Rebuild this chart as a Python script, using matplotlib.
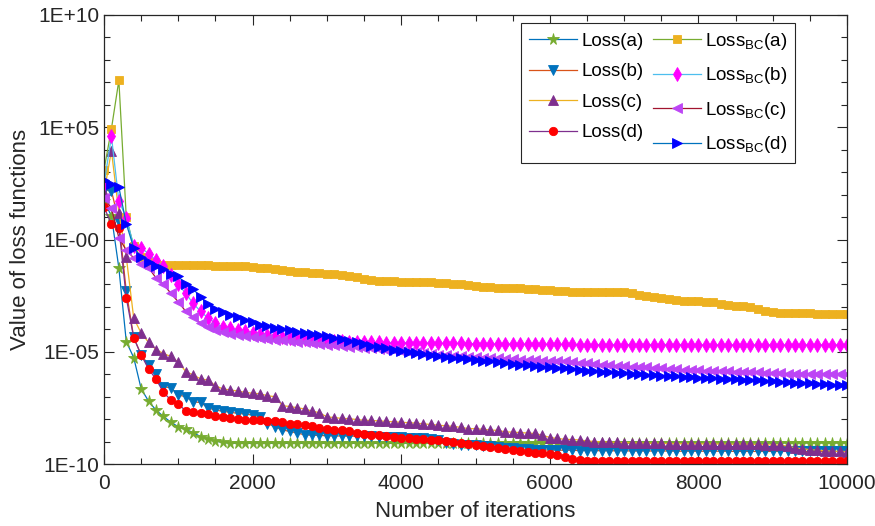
import numpy as np
import matplotlib
matplotlib.use("Agg")
import matplotlib.pyplot as plt
from matplotlib.ticker import FixedLocator, FixedFormatter, NullFormatter

plt.rcParams['font.family'] = ['Liberation Sans', 'DejaVu Sans']
plt.rcParams['mathtext.fontset'] = 'custom'
plt.rcParams['mathtext.rm'] = 'Liberation Sans'
plt.rcParams['mathtext.it'] = 'Liberation Sans:italic'

iterations = np.arange(0, 10001, 100)

# values stored as log10 of the loss
loss_a = [1.70, 1.05, -1.27, -4.55, -5.26, -6.65, -7.20, -7.60, -7.88, -8.14,
          -8.34, -8.46, -8.60, -8.78, -8.87, -8.98, -9.04, -9.07, -9.08, -9.08,
          -9.08, -9.08, -9.08, -9.08, -9.08, -9.08, -9.08, -9.08, -9.08, -9.08,
          -9.08, -9.08, -9.08, -9.08, -9.08, -9.08, -9.08, -9.08, -9.08, -9.08,
          -9.08, -9.07, -9.07, -9.07, -9.07, -9.07, -9.07, -9.07, -9.07, -9.07,
          -9.07, -9.07, -9.07, -9.07, -9.07, -9.07, -9.07, -9.07, -9.07, -9.07,
          -9.07, -9.06, -9.06, -9.06, -9.06, -9.06, -9.06, -9.06, -9.06, -9.06,
          -9.06, -9.06, -9.06, -9.06, -9.06, -9.06, -9.06, -9.06, -9.06, -9.06,
          -9.05, -9.05, -9.05, -9.05, -9.05, -9.05, -9.05, -9.05, -9.05, -9.05,
          -9.05, -9.05, -9.05, -9.05, -9.05, -9.05, -9.05, -9.05, -9.05, -9.05,
          -9.05]
loss_b = [2.20, 2.17, 0.80, -2.30, -4.36, -5.14, -5.58, -6.00, -6.56, -6.60,
          -6.93, -7.00, -7.23, -7.26, -7.50, -7.60, -7.65, -7.70, -7.74, -7.78,
          -7.82, -7.90, -8.20, -8.35, -8.48, -8.55, -8.62, -8.70, -8.72, -8.73,
          -8.74, -8.75, -8.75, -8.76, -8.76, -8.77, -8.77, -8.78, -8.78, -8.79,
          -8.79, -8.82, -8.84, -8.86, -8.88, -8.95, -9.05, -9.12, -9.15, -9.16,
          -9.17, -9.18, -9.20, -9.24, -9.28, -9.30, -9.33, -9.35, -9.36, -9.37,
          -9.38, -9.38, -9.39, -9.39, -9.40, -9.40, -9.40, -9.41, -9.41, -9.41,
          -9.41, -9.42, -9.42, -9.42, -9.42, -9.42, -9.42, -9.43, -9.43, -9.43,
          -9.43, -9.43, -9.43, -9.43, -9.43, -9.44, -9.44, -9.44, -9.44, -9.44,
          -9.44, -9.44, -9.44, -9.44, -9.44, -9.44, -9.44, -9.44, -9.44, -9.44,
          -9.44]
loss_c = [2.07, 3.95, 1.20, -0.78, -3.50, -4.17, -4.58, -4.90, -5.08, -5.21,
          -5.46, -5.88, -6.03, -6.21, -6.26, -6.51, -6.66, -6.70, -6.75, -6.81,
          -6.85, -6.87, -6.96, -7.00, -7.40, -7.44, -7.49, -7.55, -7.64, -7.72,
          -7.90, -7.93, -7.97, -7.98, -8.02, -8.05, -8.06, -8.08, -8.10, -8.12,
          -8.14, -8.16, -8.18, -8.21, -8.24, -8.27, -8.30, -8.32, -8.37, -8.42,
          -8.43, -8.45, -8.49, -8.50, -8.57, -8.58, -8.60, -8.62, -8.64, -8.72,
          -8.82, -8.86, -8.90, -8.91, -8.93, -8.97, -9.00, -9.02, -9.03, -9.04,
          -9.05, -9.06, -9.07, -9.07, -9.08, -9.08, -9.09, -9.09, -9.10, -9.10,
          -9.10, -9.11, -9.11, -9.11, -9.12, -9.12, -9.12, -9.13, -9.13, -9.14,
          -9.15, -9.16, -9.20, -9.28, -9.32, -9.36, -9.39, -9.41, -9.43, -9.44,
          -9.45]
loss_d = [1.45, 0.68, 0.53, -2.60, -4.38, -5.14, -5.77, -6.22, -6.81, -7.15,
          -7.32, -7.64, -7.67, -7.75, -7.79, -7.85, -7.90, -7.96, -8.00, -8.02,
          -8.05, -8.06, -8.08, -8.10, -8.15, -8.20, -8.24, -8.27, -8.30, -8.38,
          -8.45, -8.47, -8.49, -8.55, -8.61, -8.65, -8.69, -8.72, -8.75, -8.80,
          -8.84, -8.86, -8.88, -8.90, -8.92, -8.94, -8.97, -9.00, -9.06, -9.12,
          -9.16, -9.20, -9.24, -9.28, -9.32, -9.36, -9.43, -9.47, -9.50, -9.52,
          -9.54, -9.60, -9.69, -9.79, -9.84, -9.88, -9.88, -9.88, -9.88, -9.88,
          -9.88, -9.88, -9.88, -9.88, -9.88, -9.88, -9.88, -9.88, -9.88, -9.88,
          -9.88, -9.88, -9.88, -9.88, -9.88, -9.88, -9.88, -9.88, -9.88, -9.88,
          -9.88, -9.88, -9.88, -9.88, -9.88, -9.88, -9.88, -9.88, -9.88, -9.88,
          -9.88]
loss_bc_a = [3.10, 4.93, 7.09, 0.98, -0.30, -0.80, -1.00, -1.10, -1.13, -1.13,
             -1.14, -1.14, -1.14, -1.15, -1.15, -1.16, -1.16, -1.17, -1.18, -1.20,
             -1.22, -1.25, -1.28, -1.32, -1.36, -1.40, -1.43, -1.46, -1.48, -1.50,
             -1.52, -1.54, -1.57, -1.62, -1.68, -1.74, -1.79, -1.83, -1.86, -1.87,
             -1.88, -1.89, -1.89, -1.90, -1.91, -1.93, -1.95, -1.96, -1.98, -2.02,
             -2.08, -2.10, -2.12, -2.14, -2.15, -2.16, -2.18, -2.20, -2.22, -2.24,
             -2.26, -2.28, -2.30, -2.32, -2.33, -2.33, -2.34, -2.34, -2.35, -2.35,
             -2.36, -2.37, -2.45, -2.52, -2.57, -2.62, -2.67, -2.70, -2.72, -2.74,
             -2.76, -2.78, -2.80, -2.87, -2.90, -2.95, -2.97, -3.02, -3.10, -3.17,
             -3.24, -3.27, -3.28, -3.28, -3.29, -3.29, -3.30, -3.30, -3.31, -3.32,
             -3.32]
loss_bc_b = [2.45, 4.59, 1.72, 0.97, -0.29, -0.37, -0.63, -0.93, -1.20, -1.60,
             -2.00, -2.40, -2.85, -3.20, -3.50, -3.72, -3.90, -3.96, -4.04, -4.09,
             -4.16, -4.21, -4.26, -4.30, -4.34, -4.37, -4.40, -4.43, -4.45, -4.48,
             -4.50, -4.52, -4.54, -4.55, -4.56, -4.57, -4.58, -4.58, -4.59, -4.59,
             -4.60, -4.60, -4.61, -4.61, -4.62, -4.62, -4.63, -4.63, -4.63, -4.64,
             -4.64, -4.64, -4.65, -4.65, -4.65, -4.66, -4.66, -4.66, -4.66, -4.67,
             -4.67, -4.67, -4.67, -4.67, -4.68, -4.68, -4.68, -4.68, -4.68, -4.68,
             -4.68, -4.68, -4.68, -4.68, -4.68, -4.68, -4.68, -4.68, -4.68, -4.68,
             -4.69, -4.69, -4.69, -4.69, -4.69, -4.69, -4.69, -4.69, -4.69, -4.69,
             -4.69, -4.69, -4.69, -4.69, -4.69, -4.69, -4.69, -4.69, -4.69, -4.69,
             -4.69]
loss_bc_c = [1.85, 1.40, 0.08, -0.48, -0.82, -1.08, -1.26, -1.71, -1.99, -2.40,
             -2.78, -3.20, -3.47, -3.72, -3.90, -4.02, -4.14, -4.21, -4.27, -4.32,
             -4.36, -4.40, -4.43, -4.46, -4.49, -4.52, -4.55, -4.58, -4.61, -4.64,
             -4.68, -4.71, -4.74, -4.77, -4.79, -4.82, -4.84, -4.87, -4.90, -4.93,
             -4.96, -4.99, -5.03, -5.07, -5.10, -5.14, -5.16, -5.18, -5.20, -5.22,
             -5.24, -5.26, -5.28, -5.30, -5.32, -5.34, -5.36, -5.37, -5.38, -5.39,
             -5.40, -5.41, -5.43, -5.45, -5.48, -5.51, -5.54, -5.57, -5.60, -5.62,
             -5.64, -5.66, -5.68, -5.70, -5.72, -5.74, -5.76, -5.78, -5.80, -5.82,
             -5.83, -5.84, -5.85, -5.86, -5.87, -5.88, -5.89, -5.90, -5.91, -5.93,
             -5.95, -5.96, -5.97, -5.97, -5.98, -5.98, -5.99, -5.99, -6.00, -6.00,
             -6.00]
loss_bc_d = [2.65, 2.45, 2.33, 0.70, -0.37, -0.78, -1.00, -1.19, -1.30, -1.52,
             -1.64, -1.98, -2.20, -2.57, -2.87, -3.08, -3.24, -3.35, -3.47, -3.57,
             -3.68, -3.79, -3.87, -3.94, -3.99, -4.05, -4.10, -4.16, -4.22, -4.27,
             -4.32, -4.37, -4.44, -4.50, -4.56, -4.66, -4.74, -4.78, -4.85, -4.90,
             -4.95, -4.99, -5.04, -5.10, -5.16, -5.20, -5.23, -5.27, -5.30, -5.33,
             -5.36, -5.39, -5.43, -5.47, -5.50, -5.53, -5.57, -5.60, -5.63, -5.66,
             -5.68, -5.71, -5.73, -5.76, -5.80, -5.85, -5.87, -5.89, -5.91, -5.93,
             -5.96, -5.98, -6.00, -6.03, -6.05, -6.06, -6.08, -6.10, -6.12, -6.13,
             -6.15, -6.16, -6.18, -6.20, -6.21, -6.23, -6.24, -6.26, -6.28, -6.29,
             -6.31, -6.33, -6.35, -6.37, -6.38, -6.40, -6.42, -6.44, -6.46, -6.48,
             -6.50]

labels = ['Loss(a)', 'Loss(b)', 'Loss(c)', 'Loss(d)',
          r'Loss$_{\mathrm{BC}}$(a)', r'Loss$_{\mathrm{BC}}$(b)',
          r'Loss$_{\mathrm{BC}}$(c)', r'Loss$_{\mathrm{BC}}$(d)']
series = [loss_a, loss_b, loss_c, loss_d, loss_bc_a, loss_bc_b, loss_bc_c, loss_bc_d]
line_colors = ['#0072BD', '#D95319', '#EDB120', '#7E2F8E',
               '#77AC30', '#4DBEEE', '#A2142F', '#0072BD']
marker_colors = ['#77AC30', '#0072BD', '#7E2F8E', '#FF0000',
                 '#EDB120', '#FF00FF', '#BD45F5', '#0000FF']
markers = ['*', 'v', '^', 'o', 's', 'd', '<', '>']
msizes = [8.5, 6.5, 6.5, 6, 6, 7, 6.5, 6.5]

ytick_vals = [1e-10, 1e-5, 1e0, 1e5, 1e10]
ytick_labels = ['1E-10', '1E-05', '1E-00', '1E+05', '1E+10']
xtick_vals = [0, 2000, 4000, 6000, 8000, 10000]

fig = plt.figure(figsize=(8.75, 5.26), dpi=100)
ax = fig.add_axes([104/875, 1-464/526, 743/875, 449/526])

for vals, lab, lc, mc, mk, ms in zip(series, labels, line_colors, marker_colors, markers, msizes):
    ax.plot(iterations, 10.0 ** np.array(vals), color=lc, lw=0.9,
            marker=mk, ms=ms, mfc=mc, mec=mc, mew=0.6, label=lab)

ax.set_yscale('log')
ax.set_xlim(0, 10000)
ax.set_ylim(1e-10, 1e10)
ax.yaxis.set_major_locator(FixedLocator(ytick_vals))
ax.yaxis.set_major_formatter(FixedFormatter(ytick_labels))
ax.yaxis.set_minor_locator(FixedLocator(10.0 ** np.arange(-10, 11)))
ax.yaxis.set_minor_formatter(NullFormatter())
ax.set_xticks(xtick_vals)
ax.set_xticks(np.arange(0, 10001, 500), minor=True)

ax.tick_params(which='both', direction='in', top=True, right=True,
               colors='#262626', labelsize=15, width=0.8)
ax.tick_params(which='major', length=7)
ax.tick_params(which='minor', length=4)
ax.tick_params(axis='x', pad=7)
for sp in ax.spines.values():
    sp.set_color('#262626')
    sp.set_linewidth(0.9)

ax.set_xlabel('Number of iterations', fontsize=16, color='#262626', labelpad=6)
ax.set_ylabel('Value of loss functions', fontsize=16, color='#262626', labelpad=5)

leg = ax.legend(ncol=2, loc='upper right', bbox_to_anchor=(0.93, 0.982),
                borderaxespad=0, fontsize=13.5, frameon=True, fancybox=False,
                edgecolor='#262626', framealpha=1, handlelength=2.6,
                handletextpad=0.2, columnspacing=0.5, labelspacing=0.72,
                borderpad=0.4)
leg.get_frame().set_linewidth(0.8)

fig.savefig('out.png', dpi=100)
